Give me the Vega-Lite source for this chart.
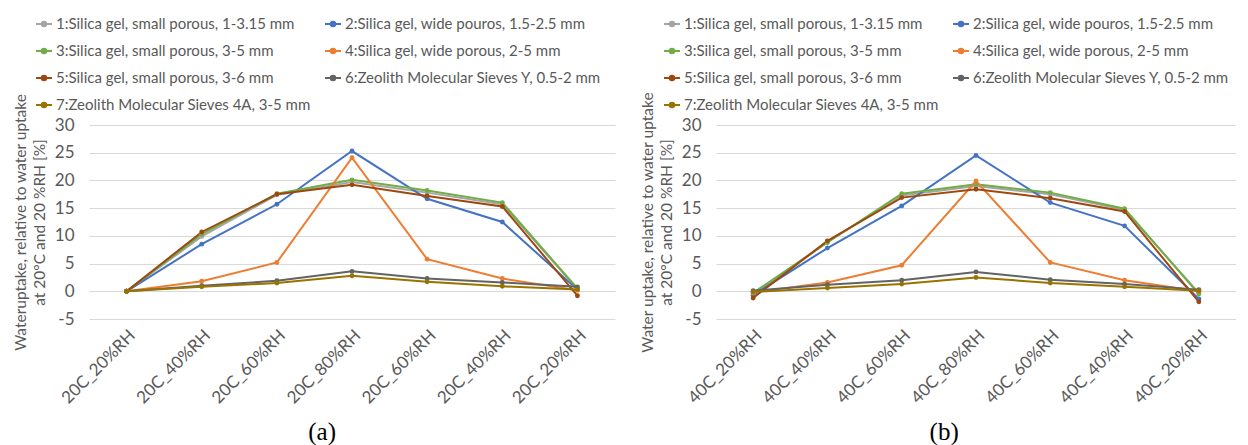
{
  "$schema": "https://vega.github.io/schema/vega-lite/v6.json",
  "background": "white",
  "padding": {"left": 13, "top": 15, "right": 0, "bottom": 0},
  "config": {
    "font": "Lato",
    "view": {"stroke": null},
    "axis": {
      "labelColor": "#595959",
      "labelFontSize": 17,
      "titleColor": "#595959",
      "titleFontSize": 15.5,
      "titleFontWeight": "normal",
      "domain": false,
      "ticks": false
    },
    "legend": {
      "orient": "none",
      "direction": "horizontal",
      "title": null,
      "columns": 2,
      "columnPadding": 10,
      "rowPadding": 10,
      "labelFontSize": 15,
      "labelColor": "#595959",
      "labelLimit": 0,
      "symbolType": "M-1,0H1M-0.28,0A0.28,0.28,0,1,0,0.28,0A0.28,0.28,0,1,0,-0.28,0Z",
      "symbolSize": 256,
      "symbolStrokeWidth": 2,
      "labelOffset": 3
    },
    "title": {
      "orient": "bottom",
      "anchor": "middle",
      "frame": "bounds",
      "font": "Liberation Serif",
      "fontSize": 25,
      "fontWeight": "normal",
      "color": "#000000",
      "offset": 14
    }
  },
  "datasets": {
    "uptake": [
      {"panel": "a", "point": "1|20C_20%RH", "series": "1:Silica gel, small porous, 1-3.15 mm", "value": 0},
      {"panel": "a", "point": "2|20C_40%RH", "series": "1:Silica gel, small porous, 1-3.15 mm", "value": 9.9},
      {"panel": "a", "point": "3|20C_60%RH", "series": "1:Silica gel, small porous, 1-3.15 mm", "value": 17.4},
      {"panel": "a", "point": "4|20C_80%RH", "series": "1:Silica gel, small porous, 1-3.15 mm", "value": 19.7},
      {"panel": "a", "point": "5|20C_60%RH", "series": "1:Silica gel, small porous, 1-3.15 mm", "value": 17.8},
      {"panel": "a", "point": "6|20C_40%RH", "series": "1:Silica gel, small porous, 1-3.15 mm", "value": 15.7},
      {"panel": "a", "point": "7|20C_20%RH", "series": "1:Silica gel, small porous, 1-3.15 mm", "value": 0.4},
      {"panel": "a", "point": "1|20C_20%RH", "series": "2:Silica gel, wide pouros, 1.5-2.5 mm", "value": 0},
      {"panel": "a", "point": "2|20C_40%RH", "series": "2:Silica gel, wide pouros, 1.5-2.5 mm", "value": 8.5},
      {"panel": "a", "point": "3|20C_60%RH", "series": "2:Silica gel, wide pouros, 1.5-2.5 mm", "value": 15.7},
      {"panel": "a", "point": "4|20C_80%RH", "series": "2:Silica gel, wide pouros, 1.5-2.5 mm", "value": 25.3},
      {"panel": "a", "point": "5|20C_60%RH", "series": "2:Silica gel, wide pouros, 1.5-2.5 mm", "value": 16.7},
      {"panel": "a", "point": "6|20C_40%RH", "series": "2:Silica gel, wide pouros, 1.5-2.5 mm", "value": 12.5},
      {"panel": "a", "point": "7|20C_20%RH", "series": "2:Silica gel, wide pouros, 1.5-2.5 mm", "value": 0.3},
      {"panel": "a", "point": "1|20C_20%RH", "series": "3:Silica gel, small porous, 3-5 mm", "value": 0},
      {"panel": "a", "point": "2|20C_40%RH", "series": "3:Silica gel, small porous, 3-5 mm", "value": 10.3},
      {"panel": "a", "point": "3|20C_60%RH", "series": "3:Silica gel, small porous, 3-5 mm", "value": 17.6},
      {"panel": "a", "point": "4|20C_80%RH", "series": "3:Silica gel, small porous, 3-5 mm", "value": 20.1},
      {"panel": "a", "point": "5|20C_60%RH", "series": "3:Silica gel, small porous, 3-5 mm", "value": 18.2},
      {"panel": "a", "point": "6|20C_40%RH", "series": "3:Silica gel, small porous, 3-5 mm", "value": 16.0},
      {"panel": "a", "point": "7|20C_20%RH", "series": "3:Silica gel, small porous, 3-5 mm", "value": 0.5},
      {"panel": "a", "point": "1|20C_20%RH", "series": "4:Silica gel, wide porous, 2-5 mm", "value": 0},
      {"panel": "a", "point": "2|20C_40%RH", "series": "4:Silica gel, wide porous, 2-5 mm", "value": 1.8},
      {"panel": "a", "point": "3|20C_60%RH", "series": "4:Silica gel, wide porous, 2-5 mm", "value": 5.2},
      {"panel": "a", "point": "4|20C_80%RH", "series": "4:Silica gel, wide porous, 2-5 mm", "value": 24.1},
      {"panel": "a", "point": "5|20C_60%RH", "series": "4:Silica gel, wide porous, 2-5 mm", "value": 5.8},
      {"panel": "a", "point": "6|20C_40%RH", "series": "4:Silica gel, wide porous, 2-5 mm", "value": 2.3},
      {"panel": "a", "point": "7|20C_20%RH", "series": "4:Silica gel, wide porous, 2-5 mm", "value": 0.2},
      {"panel": "a", "point": "1|20C_20%RH", "series": "5:Silica gel, small porous, 3-6 mm", "value": 0},
      {"panel": "a", "point": "2|20C_40%RH", "series": "5:Silica gel, small porous, 3-6 mm", "value": 10.7},
      {"panel": "a", "point": "3|20C_60%RH", "series": "5:Silica gel, small porous, 3-6 mm", "value": 17.5},
      {"panel": "a", "point": "4|20C_80%RH", "series": "5:Silica gel, small porous, 3-6 mm", "value": 19.2},
      {"panel": "a", "point": "5|20C_60%RH", "series": "5:Silica gel, small porous, 3-6 mm", "value": 17.2},
      {"panel": "a", "point": "6|20C_40%RH", "series": "5:Silica gel, small porous, 3-6 mm", "value": 15.3},
      {"panel": "a", "point": "7|20C_20%RH", "series": "5:Silica gel, small porous, 3-6 mm", "value": -0.8},
      {"panel": "a", "point": "1|20C_20%RH", "series": "6:Zeolith Molecular Sieves Y, 0.5-2 mm", "value": 0},
      {"panel": "a", "point": "2|20C_40%RH", "series": "6:Zeolith Molecular Sieves Y, 0.5-2 mm", "value": 1.0},
      {"panel": "a", "point": "3|20C_60%RH", "series": "6:Zeolith Molecular Sieves Y, 0.5-2 mm", "value": 1.9},
      {"panel": "a", "point": "4|20C_80%RH", "series": "6:Zeolith Molecular Sieves Y, 0.5-2 mm", "value": 3.6},
      {"panel": "a", "point": "5|20C_60%RH", "series": "6:Zeolith Molecular Sieves Y, 0.5-2 mm", "value": 2.3},
      {"panel": "a", "point": "6|20C_40%RH", "series": "6:Zeolith Molecular Sieves Y, 0.5-2 mm", "value": 1.6},
      {"panel": "a", "point": "7|20C_20%RH", "series": "6:Zeolith Molecular Sieves Y, 0.5-2 mm", "value": 0.8},
      {"panel": "a", "point": "1|20C_20%RH", "series": "7:Zeolith Molecular Sieves 4A, 3-5 mm", "value": 0},
      {"panel": "a", "point": "2|20C_40%RH", "series": "7:Zeolith Molecular Sieves 4A, 3-5 mm", "value": 0.8},
      {"panel": "a", "point": "3|20C_60%RH", "series": "7:Zeolith Molecular Sieves 4A, 3-5 mm", "value": 1.5},
      {"panel": "a", "point": "4|20C_80%RH", "series": "7:Zeolith Molecular Sieves 4A, 3-5 mm", "value": 2.8},
      {"panel": "a", "point": "5|20C_60%RH", "series": "7:Zeolith Molecular Sieves 4A, 3-5 mm", "value": 1.7},
      {"panel": "a", "point": "6|20C_40%RH", "series": "7:Zeolith Molecular Sieves 4A, 3-5 mm", "value": 0.9},
      {"panel": "a", "point": "7|20C_20%RH", "series": "7:Zeolith Molecular Sieves 4A, 3-5 mm", "value": 0.3},

      {"panel": "b", "point": "1|40C_20%RH", "series": "1:Silica gel, small porous, 1-3.15 mm", "value": -0.5},
      {"panel": "b", "point": "2|40C_40%RH", "series": "1:Silica gel, small porous, 1-3.15 mm", "value": 8.9},
      {"panel": "b", "point": "3|40C_60%RH", "series": "1:Silica gel, small porous, 1-3.15 mm", "value": 17.3},
      {"panel": "b", "point": "4|40C_80%RH", "series": "1:Silica gel, small porous, 1-3.15 mm", "value": 19.0},
      {"panel": "b", "point": "5|40C_60%RH", "series": "1:Silica gel, small porous, 1-3.15 mm", "value": 17.5},
      {"panel": "b", "point": "6|40C_40%RH", "series": "1:Silica gel, small porous, 1-3.15 mm", "value": 14.7},
      {"panel": "b", "point": "7|40C_20%RH", "series": "1:Silica gel, small porous, 1-3.15 mm", "value": -0.3},
      {"panel": "b", "point": "1|40C_20%RH", "series": "2:Silica gel, wide pouros, 1.5-2.5 mm", "value": -0.7},
      {"panel": "b", "point": "2|40C_40%RH", "series": "2:Silica gel, wide pouros, 1.5-2.5 mm", "value": 7.8},
      {"panel": "b", "point": "3|40C_60%RH", "series": "2:Silica gel, wide pouros, 1.5-2.5 mm", "value": 15.4},
      {"panel": "b", "point": "4|40C_80%RH", "series": "2:Silica gel, wide pouros, 1.5-2.5 mm", "value": 24.5},
      {"panel": "b", "point": "5|40C_60%RH", "series": "2:Silica gel, wide pouros, 1.5-2.5 mm", "value": 16.0},
      {"panel": "b", "point": "6|40C_40%RH", "series": "2:Silica gel, wide pouros, 1.5-2.5 mm", "value": 11.8},
      {"panel": "b", "point": "7|40C_20%RH", "series": "2:Silica gel, wide pouros, 1.5-2.5 mm", "value": -1.4},
      {"panel": "b", "point": "1|40C_20%RH", "series": "3:Silica gel, small porous, 3-5 mm", "value": -0.3},
      {"panel": "b", "point": "2|40C_40%RH", "series": "3:Silica gel, small porous, 3-5 mm", "value": 8.8},
      {"panel": "b", "point": "3|40C_60%RH", "series": "3:Silica gel, small porous, 3-5 mm", "value": 17.6},
      {"panel": "b", "point": "4|40C_80%RH", "series": "3:Silica gel, small porous, 3-5 mm", "value": 19.3},
      {"panel": "b", "point": "5|40C_60%RH", "series": "3:Silica gel, small porous, 3-5 mm", "value": 17.8},
      {"panel": "b", "point": "6|40C_40%RH", "series": "3:Silica gel, small porous, 3-5 mm", "value": 14.9},
      {"panel": "b", "point": "7|40C_20%RH", "series": "3:Silica gel, small porous, 3-5 mm", "value": -0.5},
      {"panel": "b", "point": "1|40C_20%RH", "series": "4:Silica gel, wide porous, 2-5 mm", "value": -0.2},
      {"panel": "b", "point": "2|40C_40%RH", "series": "4:Silica gel, wide porous, 2-5 mm", "value": 1.6},
      {"panel": "b", "point": "3|40C_60%RH", "series": "4:Silica gel, wide porous, 2-5 mm", "value": 4.7},
      {"panel": "b", "point": "4|40C_80%RH", "series": "4:Silica gel, wide porous, 2-5 mm", "value": 19.9},
      {"panel": "b", "point": "5|40C_60%RH", "series": "4:Silica gel, wide porous, 2-5 mm", "value": 5.2},
      {"panel": "b", "point": "6|40C_40%RH", "series": "4:Silica gel, wide porous, 2-5 mm", "value": 2.0},
      {"panel": "b", "point": "7|40C_20%RH", "series": "4:Silica gel, wide porous, 2-5 mm", "value": 0.0},
      {"panel": "b", "point": "1|40C_20%RH", "series": "5:Silica gel, small porous, 3-6 mm", "value": -1.2},
      {"panel": "b", "point": "2|40C_40%RH", "series": "5:Silica gel, small porous, 3-6 mm", "value": 9.1},
      {"panel": "b", "point": "3|40C_60%RH", "series": "5:Silica gel, small porous, 3-6 mm", "value": 16.9},
      {"panel": "b", "point": "4|40C_80%RH", "series": "5:Silica gel, small porous, 3-6 mm", "value": 18.4},
      {"panel": "b", "point": "5|40C_60%RH", "series": "5:Silica gel, small porous, 3-6 mm", "value": 16.8},
      {"panel": "b", "point": "6|40C_40%RH", "series": "5:Silica gel, small porous, 3-6 mm", "value": 14.4},
      {"panel": "b", "point": "7|40C_20%RH", "series": "5:Silica gel, small porous, 3-6 mm", "value": -1.9},
      {"panel": "b", "point": "1|40C_20%RH", "series": "6:Zeolith Molecular Sieves Y, 0.5-2 mm", "value": 0.1},
      {"panel": "b", "point": "2|40C_40%RH", "series": "6:Zeolith Molecular Sieves Y, 0.5-2 mm", "value": 1.2},
      {"panel": "b", "point": "3|40C_60%RH", "series": "6:Zeolith Molecular Sieves Y, 0.5-2 mm", "value": 2.0},
      {"panel": "b", "point": "4|40C_80%RH", "series": "6:Zeolith Molecular Sieves Y, 0.5-2 mm", "value": 3.5},
      {"panel": "b", "point": "5|40C_60%RH", "series": "6:Zeolith Molecular Sieves Y, 0.5-2 mm", "value": 2.1},
      {"panel": "b", "point": "6|40C_40%RH", "series": "6:Zeolith Molecular Sieves Y, 0.5-2 mm", "value": 1.3},
      {"panel": "b", "point": "7|40C_20%RH", "series": "6:Zeolith Molecular Sieves Y, 0.5-2 mm", "value": 0.3},
      {"panel": "b", "point": "1|40C_20%RH", "series": "7:Zeolith Molecular Sieves 4A, 3-5 mm", "value": -0.1},
      {"panel": "b", "point": "2|40C_40%RH", "series": "7:Zeolith Molecular Sieves 4A, 3-5 mm", "value": 0.6},
      {"panel": "b", "point": "3|40C_60%RH", "series": "7:Zeolith Molecular Sieves 4A, 3-5 mm", "value": 1.3},
      {"panel": "b", "point": "4|40C_80%RH", "series": "7:Zeolith Molecular Sieves 4A, 3-5 mm", "value": 2.5},
      {"panel": "b", "point": "5|40C_60%RH", "series": "7:Zeolith Molecular Sieves 4A, 3-5 mm", "value": 1.5},
      {"panel": "b", "point": "6|40C_40%RH", "series": "7:Zeolith Molecular Sieves 4A, 3-5 mm", "value": 0.8},
      {"panel": "b", "point": "7|40C_20%RH", "series": "7:Zeolith Molecular Sieves 4A, 3-5 mm", "value": 0.1}
    ]
  },
  "spacing": 25,
  "resolve": {"scale": {"color": "independent"}, "legend": {"color": "independent"}},
  "hconcat": [
    {
      "width": 526,
      "height": 194,
      "title": {"text": "(a)", "dx": 8},
      "data": {"name": "uptake"},
      "transform": [{"filter": "datum.panel == 'a'"}],
      "encoding": {
        "x": {
          "field": "point",
          "type": "ordinal",
          "sort": "ascending",
          "scale": {"type": "point", "padding": 0.5},
          "axis": {"title": null, "labelAngle": -45, "labelPadding": 8, "grid": false, "labelExpr": "split(datum.label, '|')[1]"}
        },
        "y": {
          "field": "value",
          "type": "quantitative",
          "scale": {"domain": [-5, 30], "nice": false, "zero": false},
          "axis": {
            "values": [-5, 0, 5, 10, 15, 20, 25, 30],
            "labelExpr": "toString(datum.value)",
            "grid": true,
            "gridColor": "#D9D9D9",
            "gridWidth": 1,
            "labelPadding": 15,
            "title": ["Wateruptake, relative to water uptake", "at 20°C and 20 %RH [%]"],
            "titlePadding": 7,
            "titleLineHeight": 19
          }
        },
        "color": {
          "field": "series",
          "type": "nominal",
          "scale": {
            "domain": ["1:Silica gel, small porous, 1-3.15 mm", "2:Silica gel, wide pouros, 1.5-2.5 mm", "3:Silica gel, small porous, 3-5 mm", "4:Silica gel, wide porous, 2-5 mm", "5:Silica gel, small porous, 3-6 mm", "6:Zeolith Molecular Sieves Y, 0.5-2 mm", "7:Zeolith Molecular Sieves 4A, 3-5 mm"],
            "range": ["#A5A5A5", "#4472C4", "#70AD47", "#ED7D31", "#9E480E", "#636363", "#997300"]
          },
          "legend": {"legendX": -54, "legendY": -110}
        }
      },
      "layer": [
        {"mark": {"type": "line", "strokeWidth": 2}},
        {"mark": {"type": "point", "filled": true, "opacity": 1, "size": 24}}
      ]
    },
    {
      "width": 520,
      "height": 194,
      "title": {"text": "(b)", "dx": 6},
      "data": {"name": "uptake"},
      "transform": [{"filter": "datum.panel == 'b'"}],
      "encoding": {
        "x": {
          "field": "point",
          "type": "ordinal",
          "sort": "ascending",
          "scale": {"type": "point", "padding": 0.5},
          "axis": {"title": null, "labelAngle": -45, "labelPadding": 8, "grid": false, "labelExpr": "split(datum.label, '|')[1]"}
        },
        "y": {
          "field": "value",
          "type": "quantitative",
          "scale": {"domain": [-5, 30], "nice": false, "zero": false},
          "axis": {
            "values": [-5, 0, 5, 10, 15, 20, 25, 30],
            "labelExpr": "toString(datum.value)",
            "grid": true,
            "gridColor": "#D9D9D9",
            "gridWidth": 1,
            "labelPadding": 15,
            "title": ["Water uptake, relative to water uptake", "at 20°C and 20 %RH [%]"],
            "titlePadding": 7,
            "titleLineHeight": 19
          }
        },
        "color": {
          "field": "series",
          "type": "nominal",
          "scale": {
            "domain": ["1:Silica gel, small porous, 1-3.15 mm", "2:Silica gel, wide pouros, 1.5-2.5 mm", "3:Silica gel, small porous, 3-5 mm", "4:Silica gel, wide porous, 2-5 mm", "5:Silica gel, small porous, 3-6 mm", "6:Zeolith Molecular Sieves Y, 0.5-2 mm", "7:Zeolith Molecular Sieves 4A, 3-5 mm"],
            "range": ["#A5A5A5", "#4472C4", "#70AD47", "#ED7D31", "#9E480E", "#636363", "#997300"]
          },
          "legend": {"legendX": -53, "legendY": -110}
        }
      },
      "layer": [
        {"mark": {"type": "line", "strokeWidth": 2}},
        {"mark": {"type": "point", "filled": true, "opacity": 1, "size": 24}}
      ]
    }
  ]
}
